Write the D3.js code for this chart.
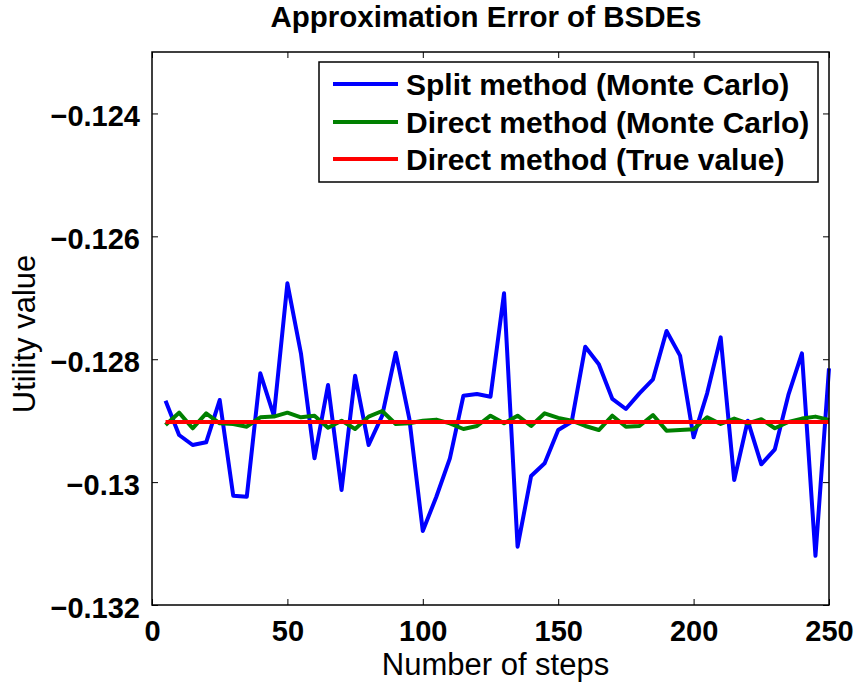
<!DOCTYPE html>
<html>
<head>
<meta charset="utf-8">
<script src="https://cdn.jsdelivr.net/npm/d3@7"></script>
<style>
  html, body { margin: 0; padding: 0; background: #fff; }
  svg { display: block; }
  text { font-family: "Liberation Sans", Arial, Helvetica, sans-serif; fill: #000; }
</style>
</head>
<body>
<svg id="chart" width="858" height="682"></svg>
<script>
const steps = [5,10,15,20,25,30,35,40,45,50,55,60,65,70,75,80,85,90,95,100,
  105,110,115,120,125,130,135,140,145,150,155,160,165,170,175,180,185,190,195,200,
  205,210,215,220,225,230,235,240,245,250];

const splitMC = [-0.128675,-0.129233,-0.129396,-0.129352,-0.128664,-0.130221,-0.130238,-0.128229,-0.128919,-0.126764,
  -0.127904,-0.129613,-0.128420,-0.130128,-0.128268,-0.129396,-0.128919,-0.127894,-0.128962,-0.130796,
  -0.130238,-0.129613,-0.128594,-0.128566,-0.128610,-0.126925,-0.131051,-0.129900,-0.129694,-0.129152,
  -0.129017,-0.127796,-0.128083,-0.128647,-0.128810,-0.128555,-0.128327,-0.127541,-0.127942,-0.129271,
  -0.128555,-0.127644,-0.129966,-0.129000,-0.129710,-0.129466,-0.128582,-0.127904,-0.131200,-0.128148];

const directMC = [-0.129072,-0.128870,-0.129124,-0.128880,-0.129043,-0.129054,-0.129098,-0.128945,-0.128934,-0.128870,
  -0.128945,-0.128919,-0.129114,-0.129000,-0.129136,-0.128934,-0.128843,-0.129054,-0.129043,-0.129000,
  -0.128983,-0.129043,-0.129136,-0.129087,-0.128919,-0.129043,-0.128919,-0.129087,-0.128880,-0.128955,
  -0.129000,-0.129087,-0.129152,-0.128919,-0.129098,-0.129087,-0.128908,-0.129163,-0.129152,-0.129141,
  -0.128945,-0.129054,-0.128966,-0.129043,-0.128977,-0.129124,-0.129021,-0.128966,-0.128934,-0.128988];

const trueValue = -0.12902;
const directTrue = steps.map(() => trueValue);

const xTicks = [0, 50, 100, 150, 200, 250];
const yTicks = [-0.132, -0.13, -0.128, -0.126, -0.124];
const yTickLabels = ["\u22120.132", "\u22120.13", "\u22120.128", "\u22120.126", "\u22120.124"];

const seriesNames = ["Split method (Monte Carlo)", "Direct method (Monte Carlo)", "Direct method (True value)"];
const seriesColors = ["#0000ff", "#008000", "#ff0000"];
const seriesValues = [splitMC, directMC, directTrue];

const title = "Approximation Error of BSDEs";
const xLabel = "Number of steps";
const yLabel = "Utility value";

const svg = d3.select("#chart");
const L = 152, R = 829, T = 52, B = 605;

const x = d3.scaleLinear().domain([0, 250]).range([L, R]);
const y = d3.scaleLinear().domain([-0.132, -0.123]).range([B, T]);

// lines
const line = d3.line().x((d, i) => x(steps[i])).y(d => y(d));
[0, 1, 2].forEach(k => {
  svg.append("path")
    .datum(seriesValues[k])
    .attr("fill", "none")
    .attr("stroke", seriesColors[k])
    .attr("stroke-width", 4)
    .attr("stroke-linejoin", "round")
    .attr("d", line);
});

// axes
const tickFont = 'bold 29px "Liberation Sans", Arial, sans-serif';
const gx = svg.append("g").attr("transform", `translate(0,${B})`)
  .call(d3.axisBottom(x).tickValues(xTicks).tickSizeInner(-6).tickSizeOuter(0).tickPadding(14).tickFormat(d3.format("d")));
const gxt = svg.append("g").attr("transform", `translate(0,${T})`)
  .call(d3.axisTop(x).tickValues(xTicks).tickSizeInner(-6).tickSizeOuter(0).tickFormat(""));
const gy = svg.append("g").attr("transform", `translate(${L},0)`)
  .call(d3.axisLeft(y).tickValues(yTicks).tickSizeInner(-6).tickSizeOuter(0).tickPadding(12)
    .tickFormat((d, i) => yTickLabels[i]));
const gyr = svg.append("g").attr("transform", `translate(${R},0)`)
  .call(d3.axisRight(y).tickValues(yTicks).tickSizeInner(-6).tickSizeOuter(0).tickFormat(""));

[gx, gxt, gy, gyr].forEach(g => {
  g.select(".domain").remove();
  g.selectAll(".tick line").attr("stroke", "#000").attr("stroke-width", 1);
  g.selectAll(".tick text").style("font", tickFont).attr("fill", "#000");
});
gx.selectAll(".tick text").attr("dy", null).attr("y", 36);
gy.selectAll(".tick text").attr("dy", null).attr("y", 12);

// frame
svg.append("rect").attr("x", L).attr("y", T).attr("width", R - L).attr("height", B - T)
  .attr("fill", "none").attr("stroke", "#000").attr("stroke-width", 1.5);

// title and labels
svg.append("text").attr("x", 486).attr("y", 27).attr("text-anchor", "middle")
  .style("font-weight", "bold").style("font-size", "29.5px").text(title);
svg.append("text").attr("x", (L + R) / 2 + 5).attr("y", 675).attr("text-anchor", "middle")
  .style("font-size", "31px").text(xLabel);
svg.append("text").attr("transform", `translate(35,334) rotate(-90)`).attr("text-anchor", "middle")
  .style("font-size", "31px").text(yLabel);

// legend
const lg = svg.append("g");
lg.append("rect").attr("x", 319).attr("y", 62).attr("width", 499).attr("height", 120)
  .attr("fill", "#fff").attr("stroke", "#000").attr("stroke-width", 1.5);
const rowY = [84, 122, 159];
seriesNames.forEach((name, i) => {
  lg.append("line").attr("x1", 333).attr("x2", 398).attr("y1", rowY[i]).attr("y2", rowY[i])
    .attr("stroke", seriesColors[i]).attr("stroke-width", 4);
  lg.append("text").attr("x", 406).attr("y", rowY[i] + 11)
    .style("font-weight", "bold").style("font-size", "30px").text(name);
});
</script>
</body>
</html>
